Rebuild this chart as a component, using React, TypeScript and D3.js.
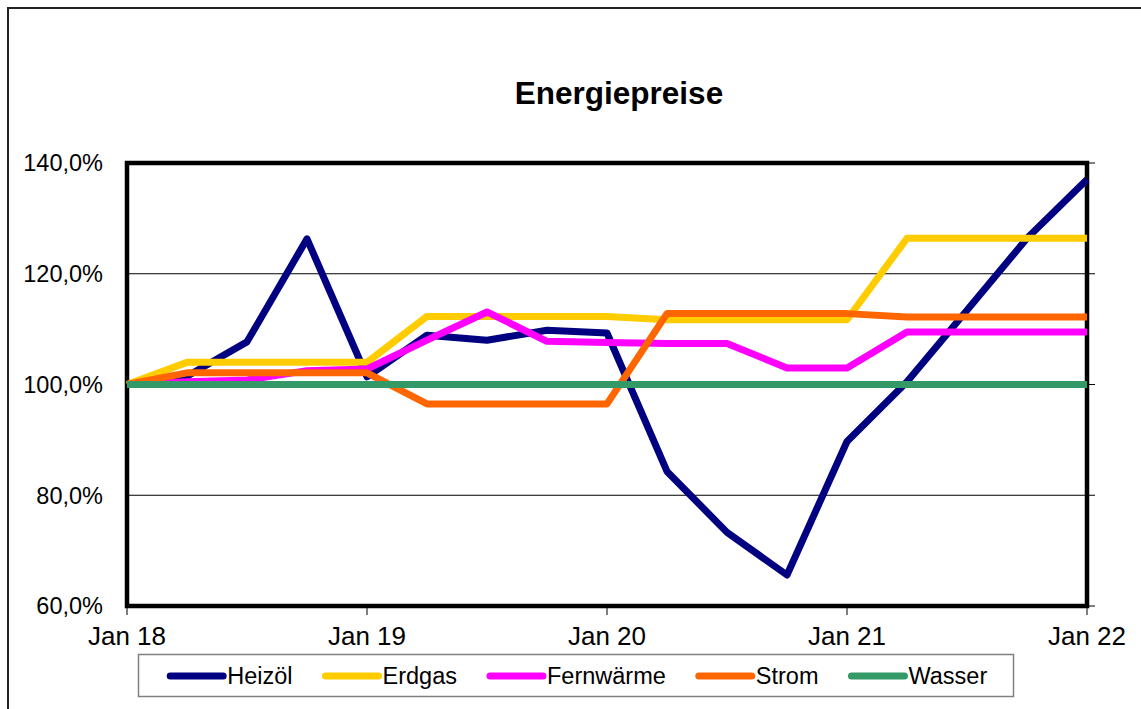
import React, { useMemo } from "react";
import * as d3 from "d3";

// ---- data ----
const quarters = [
  "2018-Q1", "2018-Q2", "2018-Q3", "2018-Q4",
  "2019-Q1", "2019-Q2", "2019-Q3", "2019-Q4",
  "2020-Q1", "2020-Q2", "2020-Q3", "2020-Q4",
  "2021-Q1", "2021-Q2", "2021-Q3", "2021-Q4",
  "2022-Q1",
];
const xTickQuarters = ["2018-Q1", "2019-Q1", "2020-Q1", "2021-Q1", "2022-Q1"];
const xTickLabels = ["Jan 18", "Jan 19", "Jan 20", "Jan 21", "Jan 22"];
const yTicks = [60, 80, 100, 120, 140];
const yGridLines = [80, 100, 120];

const heizoel = [100, 101.5, 107.7, 126.3, 101.4, 108.9, 108.0, 109.8, 109.3, 84.3, 73.3, 65.6, 89.7, 100.5, 113.4, 126.4, 137.0];
const erdgas = [100, 104.0, 104.0, 104.0, 104.0, 112.3, 112.3, 112.3, 112.3, 111.7, 111.7, 111.7, 111.7, 126.4, 126.4, 126.4, 126.4];
const fernwaerme = [100, 100.5, 100.8, 102.5, 102.8, 108.0, 113.1, 107.8, 107.6, 107.4, 107.4, 103.0, 103.0, 109.5, 109.5, 109.5, 109.5];
const strom = [100, 102.1, 102.1, 102.1, 102.1, 96.5, 96.5, 96.5, 96.5, 112.8, 112.8, 112.8, 112.8, 112.2, 112.2, 112.2, 112.2];
const wasser = [100, 100, 100, 100, 100, 100, 100, 100, 100, 100, 100, 100, 100, 100, 100, 100, 100];

const seriesNames = ["Heizöl", "Erdgas", "Fernwärme", "Strom", "Wasser"];
const seriesValues = [heizoel, erdgas, fernwaerme, strom, wasser];
const seriesColors = ["#000080", "#FFCC00", "#FF00FF", "#FF6600", "#339966"];

const title = "Energiepreise";

// ---- layout ----
const W = 1141;
const H = 709;
const plot = { left: 127, right: 1087, top: 163, bottom: 606 };
const FONT = "'Liberation Sans', Arial, Helvetica, sans-serif";

export default function App() {
  const x = d3.scalePoint<string>().domain(quarters).range([plot.left, plot.right]);
  const y = d3.scaleLinear().domain([60, 140]).range([plot.bottom, plot.top]);
  const fmt = (v: number) => v.toFixed(1).replace(".", ",") + "%";

  const line = d3
    .line<number>()
    .x((_, i) => x(quarters[i]) as number)
    .y((d) => y(d));

  const legendFontSize = 23.5;
  const legendItems = useMemo(() => {
    const canvas = document.createElement("canvas");
    const ctx = canvas.getContext("2d")!;
    ctx.font = `${legendFontSize}px ${FONT}`;
    let cursor = 166.7;
    return seriesNames.map((name, i) => {
      const start = cursor;
      const tw = ctx.measureText(name).width;
      const textX = start + 60.5;
      cursor = textX + tw + 29.5;
      return { name, color: seriesColors[i], x1: start + 3.5, x2: start + 56.5, textX };
    });
  }, []);

  return (
    <svg
      width={W}
      height={H}
      style={{ position: "absolute", left: 0, top: 0, background: "#fff" }}
      fontFamily={FONT}
    >
      {/* outer chart border */}
      <rect x={8} y={8} width={W + 40} height={H + 40} fill="#fff" stroke="#222" strokeWidth={2} />

      {/* title */}
      <text x={619} y={103.5} textAnchor="middle" fontSize={31.5} fontWeight="bold" fill="#000">
        {title}
      </text>

      {/* gridlines */}
      {yGridLines.map((v) => (
        <line key={v} x1={plot.left} x2={plot.right} y1={y(v)} y2={y(v)} stroke="#000" strokeWidth={1} />
      ))}

      {/* right side ticks */}
      {yTicks.map((v) => (
        <line key={"rt" + v} x1={plot.right} x2={plot.right + 8} y1={y(v)} y2={y(v)} stroke="#000" strokeWidth={1} />
      ))}
      {/* bottom ticks */}
      {xTickQuarters.map((q) => (
        <line key={"bt" + q} x1={x(q)} x2={x(q)} y1={plot.bottom} y2={plot.bottom + 9} stroke="#000" strokeWidth={1} />
      ))}

      {/* plot frame */}
      <rect
        x={plot.left}
        y={plot.top}
        width={plot.right - plot.left}
        height={plot.bottom - plot.top}
        fill="none"
        stroke="#000"
        strokeWidth={4.5}
      />

      {/* y labels */}
      {yTicks.map((v) => (
        <text key={"yl" + v} x={103} y={y(v)} dy="0.36em" textAnchor="end" fontSize={23.5} fill="#000">
          {fmt(v)}
        </text>
      ))}

      {/* x labels */}
      {xTickQuarters.map((q, i) => (
        <text key={"xl" + q} x={x(q)} y={645} textAnchor="middle" fontSize={26} fill="#000">
          {xTickLabels[i]}
        </text>
      ))}

      {/* series */}
      {seriesValues.map((vals, i) => (
        <path
          key={seriesNames[i]}
          d={line(vals) || ""}
          fill="none"
          stroke={seriesColors[i]}
          strokeWidth={7}
          strokeLinejoin="round"
          strokeLinecap="butt"
        />
      ))}

      {/* legend */}
      <rect x={138.5} y={654.5} width={875} height={42} fill="#fff" stroke="#808080" strokeWidth={1.5} />
      {legendItems.map((it) => (
        <g key={it.name}>
          <line x1={it.x1} x2={it.x2} y1={676} y2={676} stroke={it.color} strokeWidth={7} strokeLinecap="round" />
          <text x={it.textX} y={684.3} fontSize={legendFontSize} fill="#000">
            {it.name}
          </text>
        </g>
      ))}
    </svg>
  );
}
